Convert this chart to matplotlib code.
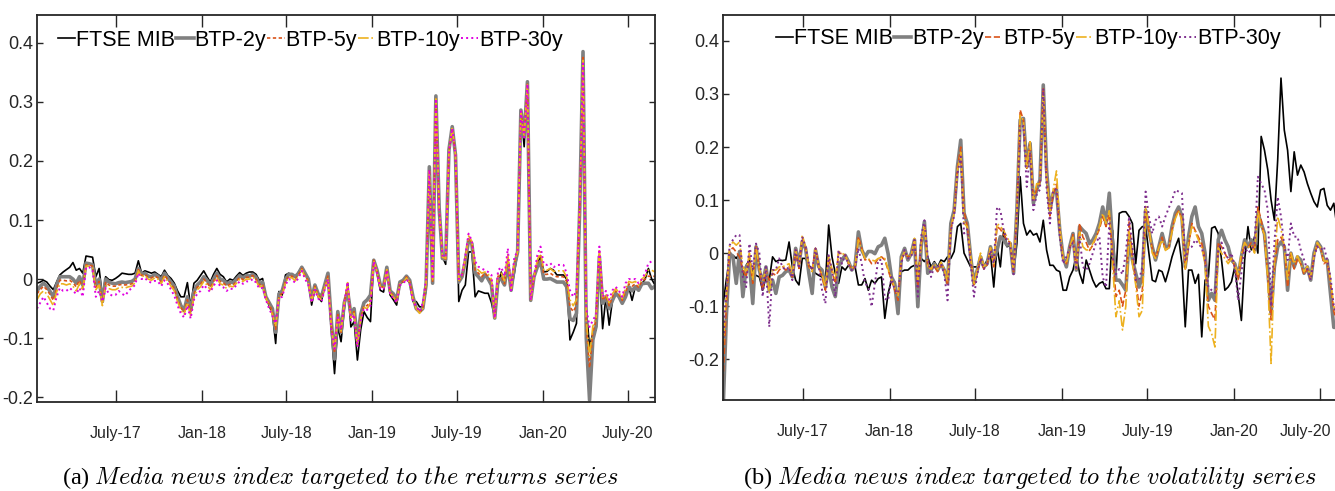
import matplotlib
matplotlib.use('Agg')
import matplotlib.pyplot as plt
import matplotlib.transforms as mtransforms
import pandas as pd

# weekly observations, Jan 2017 - Aug 2020
dates = pd.date_range('2017-01-13', periods=190, freq='7D')

tick_dates = ['2017-07-01', '2018-01-01', '2018-07-01', '2019-01-01', '2019-07-01', '2020-01-01', '2020-07-01']
tick_labels = ['July-17', 'Jan-18', 'July-18', 'Jan-19', 'July-19', 'Jan-20', 'July-20']
series_names = ['FTSE MIB', 'BTP-2y', 'BTP-5y', 'BTP-10y', 'BTP-30y']

# (a) returns
ftse_a = [-0.007, -0.005, -0.002, -0.005, -0.012, -0.018, -0.005, 0.007, 0.012, 0.016,
          0.02, 0.028, 0.015, 0.018, 0.01, 0.039, 0.038, 0.037, 0.004, 0.018,
          -0.03, 0.004, -0.001, -0.002, 0.001, 0.005, 0.01, 0.009, 0.008, 0.008,
          0.01, 0.031, 0.01, 0.014, 0.012, 0.01, 0.012, 0.008, 0.004, 0.015,
          0.006, 0.001, -0.007, -0.02, -0.03, -0.03, -0.006, -0.047, -0.007, -0.002,
          0.006, 0.014, 0.004, -0.005, 0.008, 0.018, 0.008, 0.004, -0.005, 0.0,
          -0.002, 0.005, 0.011, 0.006, 0.01, 0.012, 0.012, 0.008, -0.002, 0.001,
          -0.03, -0.045, -0.058, -0.109, -0.021, -0.027, 0.007, 0.01, 0.006, 0.004,
          0.012, 0.021, 0.01, 0.001, -0.044, -0.016, -0.03, -0.038, -0.01, 0.007,
          -0.086, -0.16, -0.081, -0.106, -0.05, -0.007, -0.081, -0.072, -0.137, -0.086,
          -0.055, -0.065, -0.072, 0.032, 0.01, -0.019, -0.022, 0.015, -0.027, -0.035,
          -0.044, -0.007, -0.005, 0.001, -0.007, -0.038, -0.038, -0.047, -0.047, -0.019,
          0.19, -0.007, 0.309, 0.117, 0.038, 0.025, 0.219, 0.258, 0.21, -0.038,
          -0.019, -0.01, 0.046, 0.046, -0.03, -0.02, -0.022, -0.024, -0.024, -0.04,
          -0.066, -0.01, 0.012, -0.01, 0.02, -0.019, 0.01, 0.046, 0.286, 0.224,
          0.334, -0.036, 0.004, 0.025, 0.038, 0.012, 0.013, 0.018, 0.015, 0.007,
          0.007, 0.007, 0.0, -0.103, -0.09, -0.075, 0.12, 0.37, -0.05, -0.115,
          -0.092, -0.086, 0.02, -0.084, -0.03, -0.078, -0.036, -0.024, -0.03, -0.041,
          -0.024, -0.013, -0.036, -0.013, -0.019, -0.008, 0.0, 0.018, 0.0, -0.01]
btp2_a = [-0.02, -0.012, -0.007, -0.012, -0.021, -0.03, -0.01, 0.004, 0.004, 0.004,
          0.004, 0.0, -0.007, 0.004, -0.01, 0.027, 0.026, 0.024, -0.01, 0.0,
          -0.038, 0.0, -0.005, -0.007, -0.008, -0.006, -0.005, -0.006, -0.005, -0.004,
          0.0, 0.018, 0.008, 0.01, 0.005, 0.004, 0.008, 0.005, -0.002, 0.01,
          0.002, -0.005, -0.012, -0.03, -0.045, -0.053, -0.03, -0.053, -0.021, -0.01,
          -0.005, 0.004, -0.002, -0.01, 0.0, 0.01, 0.0, -0.002, -0.008, -0.005,
          -0.006, 0.0, 0.006, 0.002, 0.006, 0.005, 0.008, 0.003, -0.008, -0.005,
          -0.03, -0.04, -0.05, -0.09, -0.025, -0.02, 0.0, 0.008, 0.008, 0.004,
          0.01, 0.02, 0.01, 0.0, -0.035, -0.01, -0.025, -0.03, -0.01, 0.01,
          -0.07, -0.135, -0.055, -0.09, -0.04, -0.02, -0.06, -0.05, -0.105, -0.06,
          -0.04, -0.035, -0.027, 0.032, 0.015, -0.01, -0.012, 0.02, -0.02, -0.025,
          -0.035, -0.005, -0.002, 0.005, -0.002, -0.03, -0.05, -0.055, -0.05, -0.01,
          0.19, -0.007, 0.31, 0.12, 0.035, 0.033, 0.219, 0.258, 0.21, -0.005,
          0.004, 0.03, 0.066, 0.06, 0.01, 0.004, -0.003, 0.008, 0.0, -0.01,
          -0.066, 0.0, 0.0, -0.01, 0.027, -0.019, 0.021, 0.046, 0.286, 0.241,
          0.334, -0.036, 0.004, 0.02, 0.03, 0.0, 0.0, 0.001, -0.002, -0.005,
          -0.005, -0.005, -0.013, -0.067, -0.07, -0.058, 0.12, 0.385, -0.1, -0.205,
          -0.103, -0.08, 0.038, -0.041, -0.03, -0.05, -0.036, -0.024, -0.03, -0.041,
          -0.03, -0.013, -0.02, -0.013, -0.019, -0.008, -0.007, -0.007, -0.016, -0.012]
btp5_a = [-0.025, -0.018, -0.012, -0.018, -0.026, -0.036, -0.016, -0.002, -0.002, -0.003,
          -0.002, -0.006, -0.013, -0.002, -0.015, 0.024, 0.024, 0.022, -0.014, -0.004,
          -0.04, -0.005, -0.01, -0.012, -0.012, -0.01, -0.009, -0.01, -0.009, -0.008,
          -0.003, 0.016, 0.006, 0.008, 0.003, 0.002, 0.005, 0.002, -0.005, 0.007,
          -0.001, -0.008, -0.016, -0.034, -0.048, -0.056, -0.035, -0.058, -0.025, -0.014,
          -0.009, 0.0, -0.006, -0.014, -0.004, 0.006, -0.004, -0.006, -0.012, -0.009,
          -0.01, -0.004, 0.003, -0.001, 0.003, 0.003, 0.006, 0.0, -0.01, -0.008,
          -0.03, -0.042, -0.055, -0.085, -0.028, -0.024, -0.003, 0.005, 0.005, 0.0,
          0.008, 0.018, 0.006, -0.003, -0.035, -0.012, -0.027, -0.032, -0.012, 0.005,
          -0.075, -0.125, -0.06, -0.09, -0.04, -0.01, -0.065, -0.055, -0.11, -0.065,
          -0.045, -0.045, -0.035, 0.032, 0.013, -0.012, -0.014, 0.018, -0.022, -0.028,
          -0.036, -0.006, -0.004, 0.004, -0.004, -0.032, -0.05, -0.057, -0.05, -0.01,
          0.185, -0.005, 0.305, 0.12, 0.036, 0.034, 0.217, 0.255, 0.21, -0.004,
          0.005, 0.032, 0.07, 0.062, 0.015, 0.01, 0.004, 0.01, 0.004, -0.005,
          -0.066, 0.005, 0.005, -0.008, 0.035, -0.019, 0.026, 0.046, 0.284, 0.24,
          0.33, -0.036, 0.004, 0.026, 0.04, 0.008, 0.008, 0.01, 0.006, 0.004,
          0.004, 0.004, -0.004, -0.047, -0.055, -0.045, 0.12, 0.375, -0.08, -0.15,
          -0.09, -0.07, 0.045, -0.036, -0.028, -0.045, -0.03, -0.02, -0.026, -0.036,
          -0.022, -0.008, -0.012, -0.008, -0.014, -0.004, 0.0, 0.005, 0.004, 0.005]
btp10_a = [-0.035, -0.025, -0.02, -0.025, -0.035, -0.045, -0.022, -0.008, -0.008, -0.01,
           -0.008, -0.012, -0.02, -0.008, -0.02, 0.022, 0.022, 0.02, -0.018, -0.01,
           -0.045, -0.01, -0.016, -0.018, -0.018, -0.015, -0.014, -0.015, -0.013, -0.012,
           -0.006, 0.014, 0.004, 0.006, 0.0, -0.002, 0.002, 0.0, -0.008, 0.004,
           -0.004, -0.012, -0.02, -0.038, -0.052, -0.06, -0.04, -0.062, -0.03, -0.018,
           -0.013, -0.004, -0.01, -0.018, -0.008, 0.003, -0.008, -0.01, -0.016, -0.012,
           -0.013, -0.007, 0.0, -0.004, 0.0, 0.0, 0.004, -0.003, -0.013, -0.012,
           -0.032, -0.045, -0.06, -0.08, -0.03, -0.028, -0.006, 0.003, 0.002, -0.003,
           0.005, 0.016, 0.003, -0.006, -0.037, -0.015, -0.03, -0.035, -0.015, 0.002,
           -0.08, -0.12, -0.062, -0.088, -0.04, -0.006, -0.068, -0.058, -0.112, -0.068,
           -0.048, -0.05, -0.04, 0.031, 0.012, -0.014, -0.016, 0.016, -0.024, -0.03,
           -0.038, -0.008, -0.006, 0.002, -0.006, -0.035, -0.05, -0.058, -0.05, -0.008,
           0.185, -0.003, 0.305, 0.12, 0.037, 0.035, 0.216, 0.255, 0.21, -0.002,
           0.006, 0.035, 0.073, 0.064, 0.022, 0.015, 0.01, 0.012, 0.008, 0.0,
           -0.066, 0.01, 0.01, -0.003, 0.042, -0.019, 0.03, 0.046, 0.284, 0.24,
           0.33, -0.036, 0.004, 0.032, 0.046, 0.015, 0.015, 0.018, 0.013, 0.014,
           0.014, 0.014, 0.003, -0.035, -0.045, -0.035, 0.12, 0.37, -0.07, -0.13,
           -0.08, -0.065, 0.05, -0.033, -0.025, -0.04, -0.025, -0.016, -0.023, -0.033,
           -0.015, -0.004, -0.006, -0.004, -0.01, 0.0, 0.005, 0.015, 0.015, 0.012]
btp30_a = [-0.05, -0.04, -0.03, -0.04, -0.05, -0.053, -0.03, -0.015, -0.02, -0.02,
           -0.015, -0.02, -0.025, -0.015, -0.03, 0.02, 0.02, 0.015, -0.03, -0.02,
           -0.038, -0.015, -0.025, -0.028, -0.027, -0.02, -0.025, -0.028, -0.02, -0.015,
           -0.01, 0.01, 0.0, 0.002, -0.004, -0.006, -0.003, -0.004, -0.012, -0.002,
           -0.008, -0.018, -0.028, -0.045, -0.058, -0.065, -0.045, -0.067, -0.035, -0.025,
           -0.02, -0.01, -0.016, -0.022, -0.012, -0.002, -0.012, -0.014, -0.02, -0.016,
           -0.017, -0.01, -0.004, -0.008, -0.004, -0.004, 0.0, -0.006, -0.016, -0.015,
           -0.035, -0.05, -0.062, -0.075, -0.032, -0.03, -0.01, 0.0, -0.002, -0.006,
           0.002, 0.014, 0.0, -0.01, -0.04, -0.018, -0.033, -0.038, -0.018, 0.0,
           -0.085, -0.118, -0.065, -0.085, -0.04, -0.005, -0.07, -0.06, -0.115, -0.07,
           -0.05, -0.052, -0.045, 0.03, 0.01, -0.016, -0.018, 0.015, -0.026, -0.032,
           -0.04, -0.01, -0.008, 0.0, -0.008, -0.038, -0.046, -0.055, -0.04, 0.0,
           0.185, 0.0, 0.305, 0.12, 0.04, 0.037, 0.215, 0.255, 0.21, 0.0,
           0.008, 0.04, 0.077, 0.065, 0.03, 0.021, 0.018, 0.015, 0.012, 0.007,
           -0.066, 0.015, 0.02, 0.005, 0.052, -0.019, 0.038, 0.046, 0.284, 0.24,
           0.33, -0.036, 0.004, 0.04, 0.055, 0.025, 0.024, 0.027, 0.02, 0.024,
           0.024, 0.024, 0.01, -0.019, -0.03, -0.02, 0.12, 0.365, -0.05, -0.081,
           -0.07, -0.06, 0.055, -0.03, -0.02, -0.035, -0.019, -0.013, -0.02, -0.03,
           -0.007, 0.0, 0.0, 0.0, -0.007, 0.0, 0.01, 0.027, 0.03, 0.03]

# (b) volatility
ftse_b = [-0.098, -0.05, -0.01, -0.004, -0.01, 0.0, -0.045, -0.023, -0.013, -0.038,
          -0.042, -0.045, -0.07, -0.045, -0.051, -0.007, -0.016, -0.013, -0.014, -0.013,
          0.021, -0.026, -0.051, -0.06, -0.01, -0.01, -0.023, -0.03, -0.038, -0.042,
          -0.045, -0.057, 0.053, -0.007, -0.038, -0.057, -0.026, -0.032, -0.023, -0.032,
          -0.026, -0.06, -0.06, -0.048, -0.07, -0.051, -0.057, -0.048, -0.045, -0.123,
          -0.076, -0.051, -0.054, -0.089, -0.035, -0.032, -0.032, -0.026, -0.023, -0.026,
          -0.01, -0.016, -0.007, -0.026, -0.016, -0.026, -0.013, -0.016, -0.007, -0.01,
          0.003, 0.05, 0.056, 0.0, -0.013, -0.026, -0.026, -0.026, -0.016, -0.026,
          -0.013, 0.0, -0.064, 0.012, -0.026, 0.043, 0.012, 0.015, -0.038, 0.018,
          0.144, 0.056, 0.034, 0.043, 0.034, 0.037, 0.021, 0.062, 0.006, -0.023,
          -0.023, -0.032, -0.035, -0.07, -0.07, -0.045, -0.032, -0.004, -0.038, -0.057,
          -0.013, -0.032, -0.051, -0.064, -0.057, -0.054, -0.067, -0.067, 0.043, -0.045,
          0.075, 0.078, 0.078, 0.069, 0.056, -0.02, 0.043, 0.05, 0.05, 0.0,
          -0.051, -0.054, -0.032, -0.035, -0.054, -0.032, -0.007, 0.012, 0.028, -0.02,
          -0.139, -0.032, -0.032, -0.057, -0.04, -0.158, -0.051, -0.045, 0.047, 0.05,
          0.037, -0.013, -0.07, -0.064, -0.054, -0.026, -0.076, -0.127, -0.013, 0.05,
          0.006, 0.031, 0.0, 0.22, 0.194, 0.157, 0.1, 0.062, 0.175, 0.33,
          0.232, 0.194, 0.116, 0.191, 0.147, 0.166, 0.153, 0.131, 0.113, 0.097,
          0.087, 0.119, 0.122, 0.09, 0.081, 0.094, 0.047, 0.04, 0.035, 0.03]
btp2_b = [-0.3, -0.12, 0.0, -0.007, -0.057, 0.003, -0.082, -0.026, -0.02, -0.095,
          0.012, -0.032, -0.057, -0.026, -0.07, -0.051, -0.076, -0.045, -0.042, -0.035,
          -0.032, -0.045, 0.009, -0.02, 0.021, 0.009, -0.038, -0.076, 0.006, -0.026,
          -0.032, -0.064, -0.026, -0.064, -0.082, -0.026, -0.013, -0.004, -0.016, -0.032,
          -0.023, 0.04, 0.006, -0.007, 0.003, 0.003, -0.001, 0.012, 0.015, 0.028,
          -0.001, -0.045, -0.057, -0.114, -0.007, 0.009, -0.013, -0.001, 0.025, -0.101,
          0.012, 0.059, -0.038, -0.032, -0.02, -0.032, -0.02, -0.032, -0.057, 0.056,
          0.081, 0.163, 0.213, 0.075, 0.056, -0.007, -0.057, -0.032, -0.007, -0.026,
          -0.02, 0.012, -0.013, 0.006, 0.031, 0.025, 0.015, 0.018, -0.038, 0.081,
          0.251, 0.254, 0.163, 0.207, 0.094, 0.119, 0.138, 0.317, 0.157, 0.081,
          0.113, 0.119, 0.043, -0.007, -0.026, 0.012, 0.037, -0.032, 0.05, 0.043,
          0.037, 0.018, 0.025, 0.037, 0.056, 0.087, 0.056, 0.113, 0.018, -0.051,
          -0.051, -0.06, -0.07, 0.03, -0.013, -0.038, -0.064, -0.045, 0.081, 0.043,
          0.012, -0.013, 0.012, 0.037, 0.012, 0.012, 0.05, 0.075, 0.087, 0.069,
          -0.026, 0.031, 0.069, 0.087, 0.05, 0.037, 0.0, -0.089, -0.076, -0.089,
          0.025, 0.043, 0.025, 0.012, -0.013, -0.02, -0.045, -0.007, 0.025, 0.012,
          0.025, 0.006, 0.075, 0.056, 0.037, -0.032, -0.114, -0.026, 0.012, 0.021,
          0.012, -0.07, 0.0, -0.026, -0.007, -0.013, -0.038, -0.026, -0.051, 0.0,
          0.021, 0.012, -0.013, -0.013, -0.076, -0.14, -0.14, -0.14, -0.14, -0.14]
btp5_b = [-0.24, -0.1, 0.005, 0.01, 0.002, -0.007, -0.032, -0.045, -0.005, -0.057,
          0.015, -0.032, -0.07, -0.032, -0.051, -0.038, -0.042, -0.032, -0.026, -0.032,
          -0.026, -0.045, 0.006, -0.029, 0.03, 0.009, -0.026, -0.032, 0.009, -0.026,
          -0.045, -0.07, -0.01, -0.035, -0.057, 0.0, -0.001, -0.004, -0.02, -0.03,
          -0.026, 0.031, 0.009, -0.013, -0.01, -0.02, -0.02, -0.01, -0.007, -0.013,
          -0.032, -0.051, -0.07, -0.089, -0.013, 0.0, -0.007, -0.005, 0.025, -0.064,
          0.018, 0.053, -0.026, -0.03, -0.025, -0.035, -0.022, -0.03, -0.06, 0.045,
          0.075, 0.16, 0.2, 0.08, 0.05, -0.01, -0.06, -0.035, -0.01, -0.03,
          -0.022, 0.01, -0.026, 0.05, 0.045, 0.035, 0.025, 0.02, -0.035, 0.08,
          0.27, 0.25, 0.16, 0.21, 0.1, 0.12, 0.135, 0.31, 0.15, 0.07,
          0.11, 0.13, 0.04, -0.01, -0.02, 0.01, 0.035, -0.03, 0.056, 0.03,
          0.02, 0.005, 0.015, 0.03, 0.045, 0.069, 0.05, 0.075, 0.0, -0.082,
          -0.07, -0.1, -0.07, 0.06, -0.01, -0.05, -0.1, -0.07, 0.08, 0.04,
          0.01, -0.01, 0.01, 0.03, 0.005, 0.01, 0.045, 0.07, 0.08, 0.065,
          -0.03, 0.012, 0.056, 0.043, 0.03, 0.018, -0.01, -0.1, -0.114, -0.126,
          0.02, 0.012, 0.0, -0.013, -0.01, -0.025, -0.05, -0.01, 0.02, 0.01,
          0.02, 0.005, 0.087, 0.062, 0.03, -0.04, -0.126, -0.03, 0.025, 0.03,
          0.015, -0.064, 0.0, -0.03, -0.01, -0.02, -0.04, -0.03, -0.05, -0.005,
          0.015, 0.01, -0.02, -0.015, -0.06, -0.11, -0.13, -0.13, -0.13, -0.13]
btp10_b = [-0.18, -0.08, 0.012, 0.021, 0.015, 0.021, -0.026, -0.035, 0.0, -0.051,
           0.012, -0.03, -0.051, -0.032, -0.076, -0.032, -0.032, -0.026, -0.026, -0.023,
           -0.02, -0.04, 0.006, -0.025, 0.034, 0.012, -0.026, -0.035, 0.009, -0.026,
           -0.04, -0.065, -0.005, -0.03, -0.05, 0.003, 0.0, -0.004, -0.018, -0.028,
           -0.024, 0.025, 0.006, -0.01, -0.012, -0.013, -0.015, -0.01, -0.008, -0.01,
           -0.03, -0.048, -0.065, -0.08, -0.01, 0.003, -0.006, -0.004, 0.028, -0.051,
           0.015, 0.056, -0.025, -0.03, -0.02, -0.03, -0.017, -0.03, -0.055, 0.05,
           0.075, 0.155, 0.19, 0.056, 0.05, -0.005, -0.06, -0.03, 0.0, -0.025,
           -0.02, 0.01, -0.02, 0.056, 0.05, 0.043, 0.03, 0.02, -0.035, 0.081,
           0.26, 0.25, 0.16, 0.21, 0.1, 0.131, 0.13, 0.3, 0.14, 0.08,
           0.12, 0.155, 0.05, -0.01, -0.02, 0.012, 0.03, -0.03, 0.04, 0.012,
           0.006, 0.006, 0.018, 0.03, 0.05, 0.075, 0.056, 0.08, -0.02, -0.12,
           -0.09, -0.145, -0.1, 0.04, -0.02, -0.06, -0.12, -0.108, 0.088, 0.05,
           0.0, -0.01, 0.01, 0.025, 0.005, 0.01, 0.04, 0.065, 0.08, 0.06,
           -0.03, 0.02, 0.05, 0.04, 0.025, 0.01, -0.02, -0.138, -0.152, -0.177,
           0.01, 0.0, -0.01, -0.02, -0.01, -0.02, -0.04, 0.0, 0.02, 0.01,
           0.015, 0.0, 0.08, 0.05, 0.035, -0.05, -0.208, -0.02, 0.069, 0.045,
           0.012, -0.05, 0.0, -0.02, -0.005, -0.02, -0.035, -0.025, -0.045, -0.005,
           0.02, 0.01, -0.015, -0.015, -0.05, -0.1, -0.12, -0.12, -0.12, -0.12]
btp30_b = [-0.17, -0.07, 0.015, 0.025, 0.034, 0.034, -0.045, -0.064, 0.018, -0.032,
           0.018, 0.0, -0.082, -0.026, -0.139, -0.032, -0.032, -0.01, -0.026, -0.032,
           -0.026, -0.051, 0.006, -0.029, 0.031, 0.012, -0.02, -0.032, 0.009, -0.026,
           -0.07, -0.095, -0.004, -0.032, -0.082, 0.006, -0.02, -0.004, -0.02, -0.032,
           -0.029, 0.009, -0.02, -0.057, -0.064, -0.101, -0.057, -0.013, -0.013, -0.086,
           -0.089, -0.045, -0.07, -0.076, -0.02, 0.006, -0.01, -0.007, 0.025, -0.082,
           0.031, 0.062, -0.007, -0.045, -0.025, -0.026, -0.02, -0.04, -0.089, 0.043,
           0.07, 0.15, 0.182, 0.037, 0.045, -0.02, -0.082, -0.04, -0.01, -0.03,
           -0.02, 0.005, -0.02, 0.087, 0.081, 0.043, 0.025, 0.015, -0.04, 0.07,
           0.232, 0.24, 0.125, 0.19, 0.081, 0.11, 0.12, 0.31, 0.12, 0.056,
           0.119, 0.12, 0.031, -0.02, -0.007, 0.01, 0.02, -0.032, 0.03, -0.026,
           -0.032, -0.02, 0.0, 0.02, 0.031, -0.045, -0.064, 0.056, -0.007, -0.04,
           -0.03, -0.04, 0.0, 0.069, 0.012, -0.051, -0.051, -0.026, 0.116, 0.069,
           0.037, 0.062, 0.069, 0.05, 0.069, 0.085, 0.1, 0.119, 0.116, 0.113,
           -0.013, 0.01, 0.012, 0.025, 0.018, 0.01, -0.013, -0.064, -0.07, -0.075,
           0.006, 0.02, 0.0, -0.01, 0.0, -0.026, -0.089, -0.038, 0.012, 0.0,
           0.006, 0.018, 0.144, 0.131, 0.119, 0.081, -0.1, 0.018, 0.106, 0.069,
           0.012, -0.013, 0.056, 0.031, 0.031, 0.006, -0.013, -0.032, -0.051, -0.007,
           0.012, 0.006, 0.012, -0.013, -0.045, -0.1, -0.12, -0.12, -0.12, -0.12]

sans = ['Liberation Sans', 'DejaVu Sans']
plt.rcParams['font.family'] = sans
plt.rcParams['mathtext.fontset'] = 'cm'

fig = plt.figure(figsize=(13.35, 4.91), dpi=100)
ax1 = fig.add_axes([0.0277, 0.1813, 0.4629, 0.7882])
ax2 = fig.add_axes([0.5416, 0.1853, 0.4674, 0.7842])

styles_a = [dict(color='black', lw=1.2, ls='-'),
            dict(color='#808080', lw=2.6, ls='-'),
            dict(color='#D95319', lw=1.2, ls=(0, (2, 1.5))),
            dict(color='#EDB120', lw=1.2, ls='-.'),
            dict(color='#E000E0', lw=1.4, ls=':')]
styles_b = [dict(color='black', lw=1.2, ls='-'),
            dict(color='#808080', lw=2.6, ls='-'),
            dict(color='#D95319', lw=1.2, ls='--'),
            dict(color='#EDB120', lw=1.2, ls='-.'),
            dict(color='#7E2F8E', lw=1.4, ls=':')]

for ax, data, styles in [(ax1, [ftse_a, btp2_a, btp5_a, btp10_a, btp30_a], styles_a),
                         (ax2, [ftse_b, btp2_b, btp5_b, btp10_b, btp30_b], styles_b)]:
    for name, vals, st in zip(series_names, data, styles):
        ax.plot(dates, vals, label=name, **st)
    ax.set_xlim(dates[0], dates[-1])
    ax.set_xticks(pd.to_datetime(tick_dates))
    ax.set_xticklabels(tick_labels)
    ax.set_yticks([-0.2, -0.1, 0, 0.1, 0.2, 0.3, 0.4])
    ax.set_yticklabels(['-0.2', '-0.1', '0', '0.1', '0.2', '0.3', '0.4'])
    ax.tick_params(direction='in', top=True, right=True, width=1, colors='#262626')
    ax.tick_params(axis='y', labelsize=13, pad=3, length=4.5)
    ax.tick_params(axis='x', labelsize=11.5, pad=17, length=8.5)
    for sp in ax.spines.values():
        sp.set_linewidth(1.3)
        sp.set_color('#262626')

ax1.set_ylim(-0.208, 0.447)
ax2.set_ylim(-0.277, 0.449)

# last label of (b) sits at the figure edge: keep it inside
last = ax2.get_xticklabels()[-1]
last.set_horizontalalignment('right')
last.set_transform(last.get_transform() + mtransforms.ScaledTranslation(0.12, 0, fig.dpi_scale_trans))

leg_kw = dict(ncol=5, frameon=False, fontsize=15.5, handlelength=0.8, handletextpad=0.05,
              columnspacing=0.05, borderpad=0, borderaxespad=0)
ax1.legend(loc='upper left', bbox_to_anchor=(0.034, 0.962), **leg_kw)
ax2.legend(loc='upper center', bbox_to_anchor=(0.489, 0.966), **leg_kw)

serif = ['Liberation Serif', 'DejaVu Serif']
fig.text(0.255, 0.027, r'(a) $\mathit{Media\ news\ index\ targeted\ to\ the\ returns\ series}$',
         ha='center', va='center', fontsize=17.5, family=serif)
fig.text(0.771, 0.027, r'(b) $\mathit{Media\ news\ index\ targeted\ to\ the\ volatility\ series}$',
         ha='center', va='center', fontsize=17.5, family=serif)

fig.savefig('out.png', dpi=100)
